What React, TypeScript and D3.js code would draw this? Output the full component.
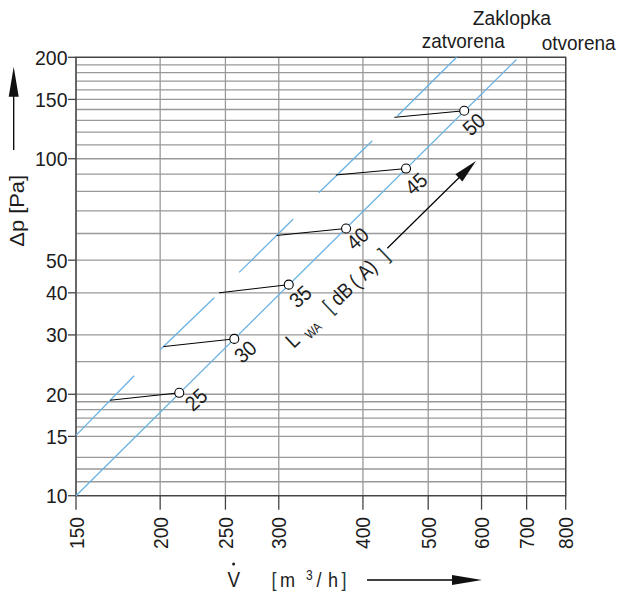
import React from 'react';
import * as d3 from 'd3';

// ---- data ----
const xTickValues = [150, 200, 250, 300, 400, 500, 600, 700, 800];
const yGridValues = [10, 11, 12, 13, 15, 16, 17, 18, 19, 20, 25, 30, 40, 50, 60, 70, 80, 90, 100, 110, 120, 130, 140, 150, 160, 170, 180, 190, 200];
const yTickLabels = [10, 15, 20, 30, 40, 50, 100, 150, 200];

// damper open ("otvorena") characteristic
const openV = [150, 676];
const openP = [10, 197];

// damper closed ("zatvorena") characteristic, drawn as separate pieces
const closedStartV = [150, 200, 262, 344, 450];
const closedStartP = [15.1, 27.1, 46.0, 79.3, 133.9];
const closedEndV = [183, 240.6, 315, 413, 551];
const closedEndP = [22.7, 38.7, 66.1, 113.1, 200];

// sound power levels L_WA dB(A)
const levels = [25, 30, 35, 40, 45, 50];
const connV = [168.5, 202.2, 244.6, 297.9, 364.8, 445.4];
const connP = [19.2, 27.7, 40, 59.2, 89.5, 132.7];
const markerV = [213.5, 257.7, 310.4, 377.6, 463.5, 565.5];
const markerP = [20.2, 29.2, 42.3, 62.1, 93.5, 138.8];

// ---- layout ----
const W = 621;
const H = 593;
const L = 76;
const R = 565.7;
const T = 57.3;
const B = 495.7;
const labelDx = [16.7, 11, 11.5, 11.5, 10, 9.5];
const labelDy = [6.7, 12.7, 11.7, 10, 15, 13.5];

const FONT = "'Liberation Sans', Arial, 'DejaVu Sans Condensed', sans-serif";
const BLUE = '#6ab2e2';
const GRID = '#999';
const FRAME = '#444';
const BRACKET = '#1f3a3a';
const TXT = '#1c1c1c';
const SQ = 0.86; // horizontal squeeze to imitate a condensed face

function arrowHead(x1: number, y1: number, x2: number, y2: number, len: number, wid: number) {
  const dx = x2 - x1;
  const dy = y2 - y1;
  const d = Math.hypot(dx, dy);
  const ux = dx / d;
  const uy = dy / d;
  const bx = x2 - ux * len;
  const by = y2 - uy * len;
  const px = -uy * wid / 2;
  const py = ux * wid / 2;
  return `${x2},${y2} ${bx + px},${by + py} ${bx - px},${by - py}`;
}

function NText(props: { x: number; y: number; size: number; anchor?: string; fill?: string; sq?: number; children: React.ReactNode }) {
  const { x, y, size, anchor = 'start', fill = TXT, sq = SQ, children } = props;
  return (
    <text transform={`translate(${x},${y}) scale(${sq},1)`} fontSize={size} textAnchor={anchor} fill={fill}>
      {children}
    </text>
  );
}

export default function App() {
  const x = d3.scaleLog().domain([150, 800]).range([L, R]);
  const y = d3.scaleLog().domain([10, 200]).range([B, T]);
  const line = d3.line<[number, number]>().x(d => x(d[0])).y(d => y(d[1]));

  const openPath = line(openV.map((v, i) => [v, openP[i]] as [number, number])) || '';

  const lwaAngle = -43.4;
  const lwaX = 292.3;
  const lwaY = 340;

  const ax1 = 387.3, ay1 = 248.3, ax2 = 476, ay2 = 161;

  return (
    <svg width={W} height={H} style={{ position: 'absolute', left: 0, top: 0, display: 'block', background: '#fff' }}
      fontFamily={FONT}>
      <rect x={0} y={0} width={W} height={H} fill="#fff" />
      {/* grid */}
      {yGridValues.map(v => (
        <line key={'h' + v} x1={L} x2={R} y1={y(v)} y2={y(v)} stroke={GRID} strokeWidth={1.3} />
      ))}
      {xTickValues.map(v => (
        <line key={'v' + v} x1={x(v)} x2={x(v)} y1={T} y2={B} stroke={GRID} strokeWidth={1.3} />
      ))}
      {/* frame */}
      <rect x={L} y={T} width={R - L} height={B - T} fill="none" stroke={FRAME} strokeWidth={1.4} />
      {/* ticks */}
      {xTickValues.map(v => (
        <line key={'xt' + v} x1={x(v)} x2={x(v)} y1={B} y2={B + 14} stroke={FRAME} strokeWidth={1.3} />
      ))}
      {yTickLabels.map(v => (
        <line key={'yt' + v} x1={L - 8} x2={L} y1={y(v)} y2={y(v)} stroke={FRAME} strokeWidth={1.3} />
      ))}
      {/* y tick labels */}
      {yTickLabels.map(v => (
        <text key={'yl' + v} x={67.5} y={y(v) + 7.5} textAnchor="end" fontSize={21} fill={TXT}
          textLength={String(v).length === 3 ? 32.5 : 21.5} lengthAdjust="spacingAndGlyphs">{v}</text>
      ))}
      {/* x tick labels */}
      {xTickValues.map(v => (
        <text key={'xl' + v} transform={`translate(${x(v) + 7.5},517) rotate(-90)`} textAnchor="end" fontSize={21}
          fill={TXT} textLength={32} lengthAdjust="spacingAndGlyphs">{v}</text>
      ))}

      {/* curves */}
      <path d={openPath} fill="none" stroke={BLUE} strokeWidth={1.3} />
      {closedStartV.map((v, i) => (
        <path key={'c' + i}
          d={line([[v, closedStartP[i]], [closedEndV[i], closedEndP[i]]]) || ''}
          fill="none" stroke={BLUE} strokeWidth={1.3} />
      ))}
      {levels.map((lv, i) => (
        <line key={'k' + lv} x1={x(connV[i])} y1={y(connP[i])} x2={x(markerV[i])} y2={y(markerP[i])}
          stroke="#000" strokeWidth={1} />
      ))}
      {levels.map((lv, i) => (
        <circle key={'m' + lv} cx={x(markerV[i])} cy={y(markerP[i])} r={4.5} fill="#fff" stroke="#000" strokeWidth={1.1} />
      ))}
      {levels.map((lv, i) => (
        <text key={'n' + lv}
          transform={`translate(${x(markerV[i]) + labelDx[i]},${y(markerP[i]) + labelDy[i]}) rotate(-42)`}
          y={7.5} textAnchor="middle" fontSize={21} fill={TXT} textLength={21.5} lengthAdjust="spacingAndGlyphs">{lv}</text>
      ))}

      {/* L_WA [dB(A)] label */}
      <g transform={`translate(${lwaX},${lwaY}) rotate(${lwaAngle})`}>
        <NText x={0} y={7.5} size={21} anchor="middle">L</NText>
        <NText x={21.7} y={12} size={13} anchor="middle">WA</NText>
        <NText x={48.7} y={7.5} size={21} anchor="middle" fill={BRACKET}>[</NText>
        <NText x={67.5} y={7.5} size={21} anchor="middle">dB</NText>
        <NText x={85.3} y={7.5} size={21} anchor="middle">(</NText>
        <NText x={99.3} y={7.5} size={21} anchor="middle">A</NText>
        <NText x={108.5} y={7.5} size={21} anchor="middle">)</NText>
        <NText x={125.3} y={7.5} size={21} anchor="middle" fill={BRACKET}>]</NText>
      </g>
      <line x1={ax1} y1={ay1} x2={ax2 - 20 * 0.713} y2={ay2 + 20 * 0.701} stroke="#000" strokeWidth={1.2} />
      <polygon points={arrowHead(ax1, ay1, ax2, ay2, 24, 10)} fill="#111" />

      {/* top labels */}
      <NText x={472.7} y={25} size={21} sq={0.92}>Zaklopka</NText>
      <NText x={421.7} y={48.3} size={21} sq={0.9}>zatvorena</NText>
      <NText x={541.7} y={50} size={21} sq={0.905}>otvorena</NText>

      {/* y axis title and arrow */}
      <text transform="translate(24,210.8) rotate(-90)" textAnchor="middle" fontSize={21} fill={TXT}
        textLength={71.7} lengthAdjust="spacingAndGlyphs">Δp [Pa]</text>
      <line x1={13.7} y1={150} x2={13.7} y2={92} stroke="#000" strokeWidth={1.3} />
      <polygon points={arrowHead(13.7, 150, 13.7, 66.7, 30, 10)} fill="#111" />

      {/* x axis title and arrow */}
      <NText x={227.5} y={586.7} size={22}>V</NText>
      <circle cx={233.6} cy={564} r={1.5} fill={TXT} />
      <NText x={271.5} y={586.7} size={21} fill={BRACKET}>[</NText>
      <NText x={280} y={586.7} size={21}>m</NText>
      <NText x={306} y={580} size={14}>3</NText>
      <NText x={316.5} y={586.7} size={21}>/</NText>
      <NText x={328} y={586.7} size={21}>h</NText>
      <NText x={341.5} y={586.7} size={21} fill={BRACKET}>]</NText>
      <line x1={367} y1={580} x2={456} y2={580} stroke="#000" strokeWidth={1.3} />
      <polygon points={arrowHead(367, 580, 482, 580, 30, 10)} fill="#111" />
    </svg>
  );
}
